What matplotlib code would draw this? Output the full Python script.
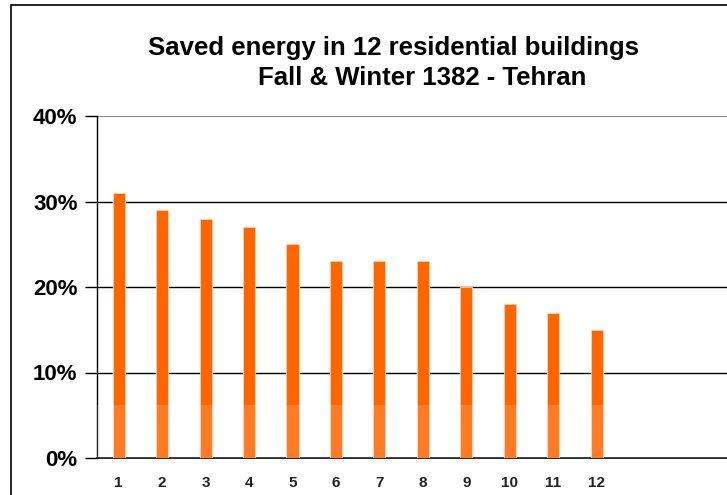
import matplotlib
matplotlib.use("Agg")
import matplotlib.pyplot as plt
from matplotlib.patches import Rectangle

buildings = [str(i) for i in range(1, 13)]
saved_pct = [31, 29, 28, 27, 25, 23, 23, 23, 20, 18, 17, 15]
yticks = [0, 10, 20, 30, 40]
ytick_labels = ["0%", "10%", "20%", "30%", "40%"]
title1 = "Saved energy in 12 residential buildings"
title2 = "Fall & Winter 1382 - Tehran"

narrow = ["Liberation Sans Narrow", "Liberation Sans", "DejaVu Sans"]
W, H = 727, 495
fig = plt.figure(figsize=(W / 100, H / 100), dpi=100)
fig.patch.set_facecolor("white")

# figure border
fig.add_artist(Rectangle((11 / W, -0.01), 1.2, 1 - 5 / H + 0.01, transform=fig.transFigure,
                         fill=False, edgecolor="black", linewidth=1.2))

ax = fig.add_axes([97 / W, 37 / H, (W - 97) / W, (458 - 116) / H])
x = list(range(1, len(saved_pct) + 1))
ax.bar(x, saved_pct, width=0.28, color="#FF6600", zorder=3,
       edgecolor="#FFD0B0", linewidth=0.6)
# faint watermark lightening the lower part
ax.axhspan(0, 6.2, color="white", alpha=0.15, zorder=4, linewidth=0)

ax.set_xlim(0.5, 15.0)
ax.set_ylim(0, 40)
ax.set_yticks(yticks)
ax.set_yticklabels(ytick_labels, fontsize=16, fontweight="bold", family=["Liberation Sans", "DejaVu Sans"])
ax.set_xticks(x)
ax.set_xticklabels(buildings, fontsize=11, fontweight="bold", family=narrow, color="#222222")
ax.tick_params(axis="x", length=0, pad=13)
ax.tick_params(axis="y", length=9, width=1.0, pad=5)

for y in [10, 20, 30]:
    ax.axhline(y, color="black", linewidth=1.0, zorder=2)
ax.axhline(40, color="#888888", linewidth=1.5, zorder=2)

for s in ["top", "right"]:
    ax.spines[s].set_visible(False)
ax.spines["left"].set_linewidth(1.0)
ax.spines["bottom"].set_linewidth(1.2)

fig.text(394 / W, 1 - 48 / H, title1, ha="center", va="center", fontsize=18.5,
         fontweight="bold", family=narrow)
fig.text(422 / W, 1 - 78 / H, title2, ha="center", va="center", fontsize=18.5,
         fontweight="bold", family=narrow)

fig.savefig("out.png", dpi=100)
